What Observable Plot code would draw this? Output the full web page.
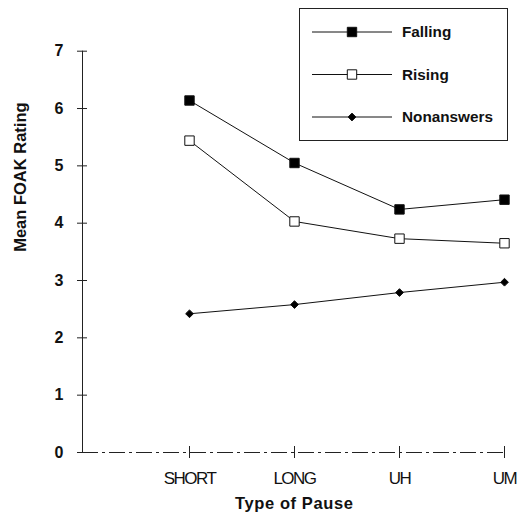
<!DOCTYPE html>
<html>
<head>
<meta charset="utf-8">
<script src="https://cdn.jsdelivr.net/npm/d3@7"></script>
<script src="https://cdn.jsdelivr.net/npm/@observablehq/plot@0.6"></script>
<style>
  html, body { margin: 0; padding: 0; background: #fff; }
  #chart svg { display: block; }
</style>
</head>
<body>
<div id="chart"></div>
<script>
const categories = ["SHORT", "LONG", "UH", "UM"];
const seriesNames = ["Falling", "Rising", "Nonanswers"];
const falling = [6.14, 5.05, 4.24, 4.41];
const rising = [5.44, 4.03, 3.73, 3.65];
const nonanswers = [2.42, 2.58, 2.79, 2.97];
const yTicks = [0, 1, 2, 3, 4, 5, 6, 7];
const xTitle = "Type of Pause";
const yTitle = "Mean FOAK Rating";

const seriesValues = {Falling: falling, Rising: rising, Nonanswers: nonanswers};
const rows = seriesNames.flatMap(s => categories.map((c, i) => ({series: s, cat: c, value: seriesValues[s][i]})));

const symbolOf = {Falling: d3.symbolSquare, Rising: d3.symbolSquare, Nonanswers: d3.symbolDiamond2};
const fillOf = {Falling: "#000", Rising: "#fff", Nonanswers: "#000"};
const rOf = {Falling: 5.3, Rising: 5.3, Nonanswers: 3.5};

const font = "'Liberation Sans', Arial, Helvetica, sans-serif";

const W = 518, H = 525, ML = 82, MR = 12.5, MT = 50.7, MB = 73;
const frameW = W - ML - MR, frameH = H - MT - MB;

const chart = Plot.plot({
  width: W,
  height: H,
  marginLeft: ML,
  marginRight: MR,
  marginTop: MT,
  marginBottom: MB,
  style: {fontFamily: font, color: "#111", background: "#fff"},
  x: {type: "point", domain: categories, range: [188, 505.5], padding: 0, axis: null, label: null},
  y: {domain: [0, 7], axis: null, label: null},
  marks: [
    Plot.frame({anchor: "left", stroke: "#222", strokeWidth: 1}),
    Plot.ruleY([0], {stroke: "#222", strokeWidth: 1, strokeDasharray: "16 4 3 4"}),
    // crossing y ticks
    Plot.tickY(yTicks, {y: d => d, insetRight: frameW - 10, dx: -5, stroke: "#222", strokeWidth: 1}),
    Plot.text(yTicks, {y: d => d, text: d => String(d), frameAnchor: "left", textAnchor: "end", dx: -19,
      fontSize: 16, fontWeight: "bold", fill: "#111"}),
    // crossing x ticks
    Plot.tickX(categories, {x: d => d, insetTop: frameH - 12, dy: 6, stroke: "#222", strokeWidth: 1}),
    Plot.text(categories, {x: d => d, text: d => d, frameAnchor: "bottom", dy: 31, fontSize: 17, fill: "#111"}),
    Plot.text([yTitle], {frameAnchor: "left", text: d => d, rotate: -90, dx: -62, fontSize: 16.5, fontWeight: "bold", fill: "#111"}),
    Plot.text([xTitle], {frameAnchor: "bottom", text: d => d, dy: 56, fontSize: 16.5, fontWeight: "bold", fill: "#111"}),
    ...seriesNames.map(s => Plot.line(rows.filter(d => d.series === s), {x: "cat", y: "value", stroke: "#111", strokeWidth: 1})),
    ...seriesNames.map(s => Plot.dot(rows.filter(d => d.series === s), {
      x: "cat", y: "value", symbol: symbolOf[s], r: rOf[s],
      fill: fillOf[s], stroke: "#111", strokeWidth: 1
    }))
  ]
});

document.getElementById("chart").appendChild(chart);

const svg = d3.select(chart);
// condensed category labels like the original
svg.selectAll("text").filter(function() { return categories.includes(d3.select(this).text()); })
  .attr("letter-spacing", "-1.5px");
svg.selectAll("text").filter(function() { return d3.select(this).text() === xTitle; })
  .attr("letter-spacing", "0.6px");

// legend box
const lg = svg.append("g").attr("font-family", font).attr("text-anchor", "start");
lg.append("rect").attr("x", 299.5).attr("y", 8.5).attr("width", 208).attr("height", 132)
  .attr("fill", "#fff").attr("stroke", "#222").attr("stroke-width", 1);
seriesNames.forEach((s, i) => {
  const y = 32 + i * 42.5;
  lg.append("line").attr("x1", 312).attr("x2", 392).attr("y1", y).attr("y2", y)
    .attr("stroke", "#111").attr("stroke-width", 1);
  lg.append("path").attr("d", d3.symbol(symbolOf[s], Math.PI * rOf[s] * rOf[s])())
    .attr("transform", `translate(352,${y})`)
    .attr("fill", fillOf[s]).attr("stroke", "#111").attr("stroke-width", 1);
  lg.append("text").attr("x", 402).attr("y", y).attr("dy", "0.35em").attr("text-anchor", "start")
    .attr("font-size", 15.3).attr("font-weight", "bold").attr("fill", "#111").text(s);
});
</script>
</body>
</html>
